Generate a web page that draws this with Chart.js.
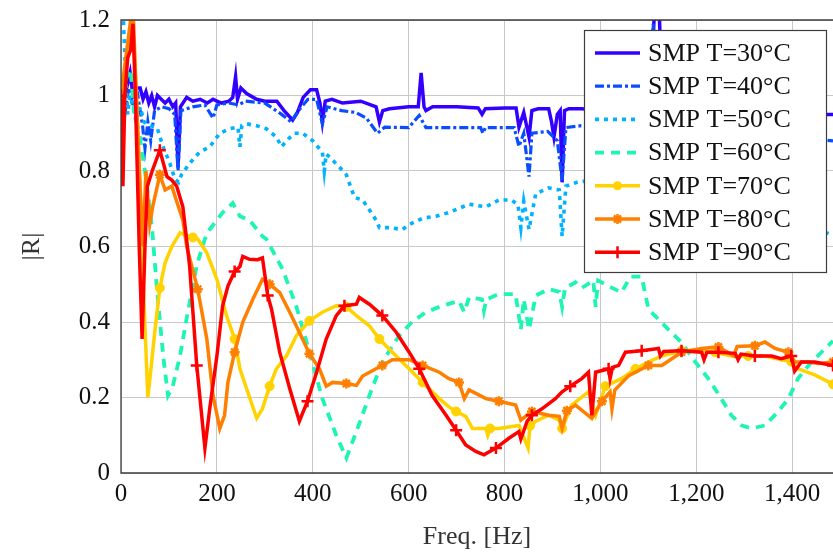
<!DOCTYPE html>
<html>
<head>
<meta charset="utf-8">
<script src="https://cdn.jsdelivr.net/npm/chart.js@4.4.0/dist/chart.umd.min.js"></script>
<style>
html,body{margin:0;padding:0;background:#fff;}
#wrap{position:relative;width:833px;height:556px;}
</style>
</head>
<body>
<div id="wrap"><canvas id="reflChart" width="833" height="556"></canvas></div>
<script>
// frequency [Hz] and |R| for each temperature
const freq30 = [0,10,19,25,32,40,46,52,58,64,70,76,84,92,100,108,114,119,124,137,
  150,165,180,192,200,210,225,233,239,243,250,262,283,300,325,340,358,368,380,395,
  408,415,420,426,440,462,500,532,539,546,560,600,620,626,632,636,650,700,745,753,
  760,800,824,830,840,851,857,870,892,898,903,910,916,920,925,934,961,1000,1050,1090,
  1105,1115,1122,1128,1135,1200,1280,1350,1420,1485];
const r30 = [1.00,1.01,1.06,1.00,1.02,1.02,0.99,1.01,0.98,1.00,0.97,1.00,0.99,0.98,0.99,0.97,0.98,0.81,0.97,0.995,
  0.985,0.99,0.98,0.99,0.985,0.98,0.985,0.995,1.05,0.99,1.02,1.005,0.99,0.985,0.985,0.96,0.935,0.955,0.995,1.015,
  1.015,0.98,0.93,0.985,0.99,0.98,0.985,0.97,0.93,0.96,0.965,0.97,0.97,1.06,0.97,0.96,0.97,0.97,0.967,0.95,
  0.965,0.967,0.967,0.916,0.955,0.89,0.96,0.965,0.965,0.93,0.89,0.95,0.96,0.77,0.96,0.965,0.965,0.96,0.965,0.96,
  1.0,1.3,1.25,1.0,0.96,0.96,0.955,0.96,0.95,0.95];

const freq40 = [0,8,16,25,35,45,50,56,62,70,85,100,112,119,125,150,175,192,200,225,
  245,260,300,335,355,370,390,408,420,430,460,490,512,535,550,600,622,636,700,750,
  755,760,820,830,840,851,857,890,910,920,928,960,1050,1100,1110,1120,1200,1300,1400,1485];
const r40 = [1.0,0.95,1.02,0.97,1.0,0.92,0.86,0.93,0.88,0.96,0.97,0.965,0.95,0.8,0.96,0.97,0.975,0.94,0.975,0.98,
  0.975,0.985,0.98,0.95,0.93,0.96,0.99,0.99,0.925,0.97,0.96,0.955,0.94,0.90,0.916,0.915,0.947,0.915,0.915,0.915,
  0.90,0.915,0.915,0.865,0.90,0.785,0.90,0.905,0.88,0.775,0.915,0.92,0.915,0.93,1.19,0.93,0.91,0.90,0.89,0.88];

const freq50 = [0,5,10,14,18,24,30,40,48,60,75,88,102,112,120,126,143,164,185,206,
  227,244,248,252,262,283,303,324,335,345,362,379,400,420,424,428,435,456,470,487,
  504,518,532,539,560,587,601,629,657,684,726,761,788,815,828,834,840,851,865,892,
  914,920,928,951,1000,1100,1200,1300,1400,1485];
const r50 = [1.22,1.2,1.05,0.95,1.0,0.98,0.94,0.97,0.93,0.92,0.916,0.863,0.82,0.78,0.77,0.79,0.82,0.85,0.864,0.90,
  0.912,0.916,0.864,0.92,0.925,0.92,0.912,0.89,0.864,0.88,0.9,0.9,0.88,0.85,0.80,0.845,0.837,0.81,0.79,0.73,
  0.723,0.697,0.67,0.65,0.65,0.645,0.658,0.675,0.68,0.69,0.712,0.705,0.723,0.723,0.71,0.65,0.72,0.645,0.74,0.755,
  0.75,0.627,0.76,0.77,0.78,0.79,0.76,0.71,0.67,0.63];

const freq60 = [0,12,20,27,38,50,58,65,75,88,98,108,123,137,158,175,185,212,233,248,
  268,295,303,337,366,393,420,449,470,491,518,545,580,607,636,670,705,716,726,753,
  757,762,788,823,834,840,851,865,892,914,920,926,948,961,985,990,995,1017,1044,1062,
  1086,1100,1115,1142,1169,1198,1225,1252,1273,1294,1315,1343,1371,1392,1412,1440,1485];
const r60 = [1.0,1.05,1.07,0.96,0.9,0.8,0.72,0.645,0.487,0.31,0.205,0.23,0.31,0.41,0.55,0.62,0.645,0.69,0.715,0.68,
  0.67,0.627,0.62,0.54,0.44,0.32,0.197,0.10,0.04,0.11,0.205,0.294,0.364,0.40,0.426,0.443,0.456,0.426,0.465,0.46,
  0.43,0.46,0.474,0.474,0.38,0.46,0.38,0.47,0.487,0.48,0.44,0.49,0.505,0.49,0.51,0.44,0.51,0.495,0.478,0.52,
  0.52,0.434,0.415,0.38,0.346,0.294,0.25,0.197,0.153,0.126,0.118,0.126,0.163,0.197,0.25,0.294,0.35];

const freq70 = [0,8,16,24,32,40,48,56,62,71,81,92,106,123,150,160,179,200,220,237,
  248,262,283,295,310,324,345,366,393,420,449,470,491,518,539,566,601,629,664,684,
  699,719,733,761,765,770,788,830,849,853,865,892,914,920,940,975,990,1010,1044,1073,1100,
  1128,1169,1198,1239,1273,1308,1343,1377,1398,1412,1447,1485];
const r70 = [1.01,1.05,1.12,1.2,1.0,0.75,0.45,0.2,0.27,0.38,0.49,0.557,0.60,0.636,0.624,0.62,0.583,0.513,0.417,0.355,
  0.276,0.223,0.145,0.17,0.23,0.276,0.31,0.364,0.403,0.426,0.443,0.44,0.417,0.39,0.355,0.32,0.276,0.24,0.197,0.175,
  0.163,0.15,0.118,0.118,0.10,0.118,0.118,0.126,0.066,0.125,0.137,0.153,0.14,0.118,0.18,0.215,0.153,0.23,0.25,0.276,0.294,
  0.31,0.324,0.325,0.32,0.31,0.31,0.31,0.30,0.295,0.276,0.26,0.235];

const freq80 = [0,10,20,26,32,40,46,52,60,66,81,92,106,116,129,137,160,179,192,206,
  216,223,237,254,275,295,310,331,352,372,393,414,428,441,470,491,504,532,545,566,
  601,629,664,684,705,716,726,761,788,823,834,857,892,914,920,930,948,982,1003,1020,1024,
  1030,1059,1100,1128,1169,1211,1246,1278,1285,1322,1343,1364,1392,1405,1433,1455,1485];
const r80 = [1.0,1.1,1.2,1.2,1.0,0.75,0.6,0.8,0.66,0.705,0.79,0.75,0.76,0.72,0.67,0.6,0.487,0.355,0.205,0.118,
  0.153,0.24,0.32,0.40,0.46,0.513,0.50,0.478,0.426,0.373,0.316,0.276,0.23,0.24,0.237,0.232,0.257,0.276,0.285,0.30,
  0.30,0.285,0.267,0.25,0.24,0.197,0.22,0.197,0.19,0.18,0.14,0.163,0.153,0.15,0.118,0.165,0.18,0.145,0.19,0.215,0.17,
  0.22,0.258,0.285,0.285,0.32,0.33,0.334,0.31,0.335,0.337,0.347,0.33,0.32,0.294,0.294,0.29,0.294];

const freq90 = [0,4,8,14,20,25,30,38,44,50,55,65,81,96,106,116,129,143,158,175,
  185,200,212,223,237,248,254,268,285,295,306,314,331,352,372,389,408,428,449,466,
  491,497,518,545,574,601,622,649,678,699,719,740,757,782,809,830,834,847,857,878,
  906,920,937,961,975,982,990,1017,1020,1025,1038,1052,1086,1121,1125,1132,1169,1211,1216,1222,
  1246,1281,1287,1293,1322,1357,1377,1398,1405,1419,1447,1485];
const r90 = [1.0,0.76,1.0,1.1,1.12,1.19,1.0,0.6,0.355,0.6,0.76,0.8,0.855,0.785,0.776,0.76,0.705,0.55,0.285,0.066,
  0.17,0.31,0.443,0.495,0.534,0.547,0.574,0.566,0.565,0.57,0.47,0.434,0.32,0.223,0.137,0.19,0.267,0.355,0.417,0.443,
  0.447,0.465,0.447,0.417,0.373,0.32,0.276,0.205,0.153,0.113,0.074,0.057,0.048,0.066,0.092,0.11,0.09,0.137,0.153,0.17,
  0.197,0.215,0.23,0.25,0.267,0.153,0.267,0.276,0.25,0.28,0.285,0.32,0.324,0.33,0.31,0.322,0.324,0.32,0.30,0.32,
  0.32,0.317,0.30,0.315,0.31,0.31,0.303,0.31,0.27,0.294,0.294,0.285];

const seriesNames = ['SMP T=30°C','SMP T=40°C','SMP T=50°C','SMP T=60°C','SMP T=70°C','SMP T=80°C','SMP T=90°C'];
const xTicks = [0,200,400,600,800,1000,1200,1400];
const yTicks = [0,0.2,0.4,0.6,0.8,1,1.2];

const freqs = [freq30,freq40,freq50,freq60,freq70,freq80,freq90];
const vals = [r30,r40,r50,r60,r70,r80,r90];

// line styles
const styles = [
  {color:'#3300ff', width:3.5, dash:[], marker:null},
  {color:'#0a4dff', width:3.2, dash:[9,3,3,3], marker:null},
  {color:'#00b2ff', width:3.6, dash:[4,5], marker:null},
  {color:'#1ef5b4', width:3.8, dash:[9,7], marker:null},
  {color:'#ffd200', width:3.5, dash:[], marker:'circle', r:4.5},
  {color:'#ff7f00', width:3.5, dash:[], marker:'star', r:5},
  {color:'#ff0000', width:3.5, dash:[], marker:'cross', r:6}
];

const markStep = 77.5;
function markIdx(fr){
  const s = new Set();
  for(let k=0; k*markStep <= fr[fr.length-1]; k++){
    let best=0, bd=1e9;
    fr.forEach((f,i)=>{ const d=Math.abs(f-k*markStep); if(d<bd){bd=d;best=i;} });
    s.add(best);
  }
  return s;
}

const datasets = seriesNames.map((name,i)=>{
  const st = styles[i];
  const marks = st.marker ? markIdx(freqs[i]) : new Set();
  return {
    label: name,
    data: freqs[i].map((f,j)=>({x:f, y:vals[i][j]})),
    borderColor: st.color,
    backgroundColor: st.color,
    borderWidth: st.width,
    borderDash: st.dash,
    borderCapStyle: 'butt',
    tension: 0,
    clip: 0,
    order: 6-i,
    pointStyle: st.marker || 'circle',
    pointRadius: ctx => marks.has(ctx.dataIndex) ? st.r : 0,
    pointBorderWidth: st.marker==='circle' ? 1 : 2.5,
    pointBackgroundColor: st.color,
    pointBorderColor: st.color
  };
});

const serif = "'Liberation Serif', 'Times New Roman', serif";

const framePlugin = {
  id: 'frame',
  afterDatasetsDraw(chart){
    const {ctx, chartArea:a} = chart;
    ctx.save();
    ctx.strokeStyle = '#3c3c3c';
    ctx.lineWidth = 1.3;
    ctx.beginPath();
    ctx.moveTo(a.right, a.top); ctx.lineTo(a.left, a.top);
    ctx.lineTo(a.left, a.bottom); ctx.lineTo(a.right, a.bottom);
    ctx.stroke();
    ctx.restore();
  }
};

function drawMarker(ctx, type, x, y, r, color){
  ctx.save();
  ctx.setLineDash([]);
  ctx.fillStyle = color; ctx.strokeStyle = color;
  if(type==='circle'){
    ctx.beginPath(); ctx.arc(x,y,r,0,Math.PI*2); ctx.fill();
  } else if(type==='cross'){
    ctx.lineWidth = 2.5;
    ctx.beginPath(); ctx.moveTo(x-r,y); ctx.lineTo(x+r,y); ctx.moveTo(x,y-r); ctx.lineTo(x,y+r); ctx.stroke();
  } else if(type==='star'){
    ctx.lineWidth = 2.5;
    ctx.beginPath();
    for(let k=0;k<4;k++){
      const a = k*Math.PI/4;
      ctx.moveTo(x-r*Math.cos(a), y-r*Math.sin(a)); ctx.lineTo(x+r*Math.cos(a), y+r*Math.sin(a));
    }
    ctx.stroke();
  }
  ctx.restore();
}

const legendPlugin = {
  id: 'boxLegend',
  afterDraw(chart){
    const ctx = chart.ctx;
    const bx = 584, by = 30, bw = 242, bh = 242;
    ctx.save();
    ctx.fillStyle = '#fff';
    ctx.fillRect(bx, by, bw, bh);
    ctx.strokeStyle = '#3c3c3c';
    ctx.lineWidth = 1.2;
    ctx.strokeRect(bx+0.5, by+0.5, bw, bh);
    ctx.font = '26px ' + serif;
    ctx.textBaseline = 'middle';
    ctx.fillStyle = '#111';
    seriesNames.forEach((name,i)=>{
      const st = styles[i];
      const y = 53 + i*33.2;
      ctx.save();
      ctx.strokeStyle = st.color;
      ctx.lineWidth = st.width;
      ctx.lineCap = 'butt';
      ctx.setLineDash(st.dash);
      ctx.beginPath(); ctx.moveTo(595, y); ctx.lineTo(640, y); ctx.stroke();
      ctx.restore();
      if(st.marker) drawMarker(ctx, st.marker, 617.5, y, st.r, st.color);
      ctx.fillStyle = '#111';
      ctx.fillText(name, 648, y+1);
    });
    ctx.restore();
  }
};

new Chart(document.getElementById('reflChart').getContext('2d'), {
  type: 'line',
  data: { datasets: datasets },
  options: {
    responsive: false,
    animation: false,
    events: [],
    layout: { autoPadding: false, padding: { top: 20, right: 0, bottom: 0, left: 0 } },
    plugins: { legend: { display: false }, tooltip: { enabled: false } },
    scales: {
      x: {
        type: 'linear', min: 0, max: 1485,
        afterFit(s){ s.height = 83; s.paddingLeft = 0; s.paddingRight = 0; },
        afterBuildTicks(s){ s.ticks = xTicks.map(v=>({value:v})); },
        grid: { color: '#c8c8c8', lineWidth: 1, drawTicks: false },
        border: { display: false },
        ticks: { color: '#111', font: { family: serif, size: 25 }, padding: 6, maxRotation: 0,
                 callback: v => v.toLocaleString('en-US') },
        title: { display: true, text: 'Freq. [Hz]', color: '#333', font: { family: serif, size: 26 }, padding: { top: 0, bottom: 3 } }
      },
      y: {
        type: 'linear', min: 0, max: 1.2,
        afterFit(s){ s.width = 121; s.paddingTop = 0; s.paddingBottom = 0; },
        afterBuildTicks(s){ s.ticks = yTicks.map(v=>({value:v})); },
        grid: { color: '#c8c8c8', lineWidth: 1, drawTicks: false },
        border: { display: false },
        ticks: { color: '#111', font: { family: serif, size: 25 }, padding: 11,
                 callback: v => String(+v.toFixed(1)) },
        title: { display: true, text: '|R|', color: '#333', font: { family: serif, size: 26 }, padding: { top: 17, bottom: 0 } }
      }
    }
  },
  plugins: [framePlugin, legendPlugin]
});
</script>
</body>
</html>
